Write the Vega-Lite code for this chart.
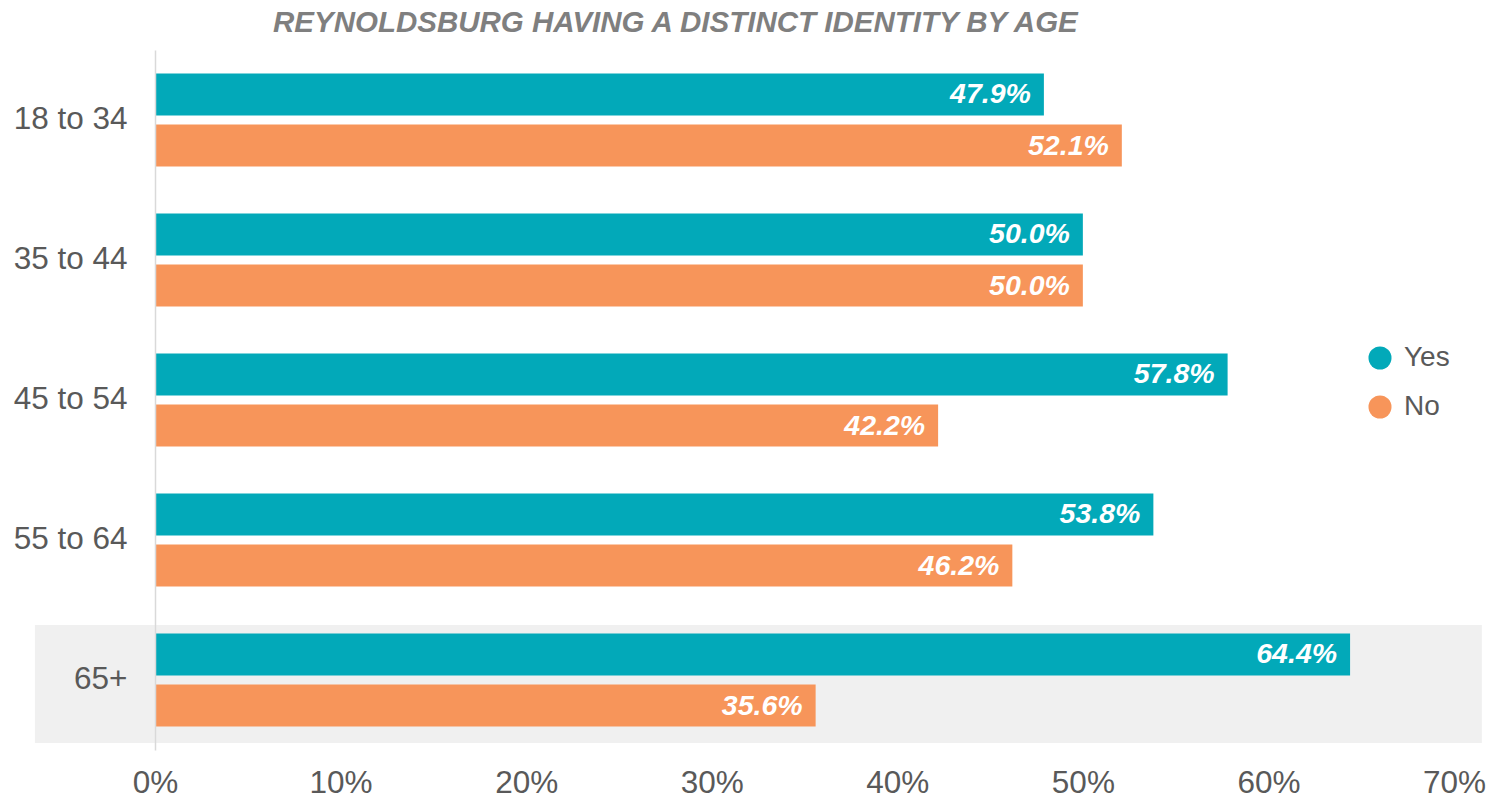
{
  "$schema": "https://vega.github.io/schema/vega-lite/v6.json",
  "width": 1299,
  "height": 700,
  "autosize": "none",
  "padding": {"left": 155, "top": 50, "right": 40, "bottom": 53},
  "background": "white",
  "config": {"view": {"stroke": null}, "font": "Liberation Sans"},
  "title": {
    "text": "REYNOLDSBURG HAVING A DISTINCT IDENTITY BY AGE",
    "anchor": "start",
    "frame": "group",
    "dx": 118,
    "offset": 12,
    "font": "Liberation Sans",
    "fontSize": 29.5,
    "fontWeight": "bold",
    "fontStyle": "italic",
    "color": "#7f7f7f"
  },
  "data": {
    "values": [
      {"age": "18 to 34", "response": "Yes", "value": 0.479},
      {"age": "18 to 34", "response": "No", "value": 0.521},
      {"age": "35 to 44", "response": "Yes", "value": 0.5},
      {"age": "35 to 44", "response": "No", "value": 0.5},
      {"age": "45 to 54", "response": "Yes", "value": 0.578},
      {"age": "45 to 54", "response": "No", "value": 0.422},
      {"age": "55 to 64", "response": "Yes", "value": 0.538},
      {"age": "55 to 64", "response": "No", "value": 0.462},
      {"age": "65+", "response": "Yes", "value": 0.644},
      {"age": "65+", "response": "No", "value": 0.356}
    ]
  },
  "encoding": {
    "y": {
      "field": "age",
      "type": "nominal",
      "sort": ["18 to 34", "35 to 44", "45 to 54", "55 to 64", "65+"],
      "scale": {"paddingInner": 0, "paddingOuter": 0},
      "axis": {
        "title": null,
        "ticks": false,
        "domainColor": "#d9d9d9",
        "domainWidth": 1.5,
        "labelFontSize": 31.5,
        "labelColor": "#595959",
        "labelPadding": 28,
        "labelFont": "Liberation Sans",
        "zindex": 1
      }
    }
  },
  "layer": [
    {
      "data": {"values": [{"age": "65+"}]},
      "mark": {"type": "bar", "color": "#f0f0f0", "height": {"band": 0.843}},
      "encoding": {
        "x": {"datum": -0.0647, "type": "quantitative"},
        "x2": {"datum": 0.715},
        "yOffset": {"value": 4}
      }
    },
    {
      "mark": {"type": "bar"},
      "encoding": {
        "x": {
          "field": "value",
          "type": "quantitative",
          "scale": {"domain": [0, 0.7], "nice": false, "zero": true},
          "axis": {
            "title": null,
            "format": ".0%",
            "values": [0, 0.1, 0.2, 0.3, 0.4, 0.5, 0.6, 0.7],
            "grid": false,
            "ticks": false,
            "domain": false,
            "labelFlush": false,
            "labelFontSize": 31.5,
            "labelColor": "#595959",
            "labelPadding": 17,
            "labelFont": "Liberation Sans"
          }
        },
        "yOffset": {
          "field": "response",
          "type": "nominal",
          "sort": ["Yes", "No"],
          "scale": {"paddingInner": 0.176, "paddingOuter": 0.46}
        },
        "color": {
          "field": "response",
          "type": "nominal",
          "sort": ["Yes", "No"],
          "scale": {"domain": ["Yes", "No"], "range": ["#02a9b9", "#f7955a"]},
          "legend": {
            "title": null,
            "orient": "none",
            "legendX": 1211,
            "legendY": 294,
            "symbolType": "circle",
            "symbolSize": 530,
            "symbolStrokeWidth": 0,
            "labelFontSize": 28,
            "labelColor": "#595959",
            "labelFont": "Liberation Sans",
            "labelOffset": 10,
            "rowPadding": 21
          }
        }
      }
    },
    {
      "mark": {
        "type": "text",
        "align": "right",
        "baseline": "middle",
        "dx": -13,
        "font": "Liberation Sans",
        "fontSize": 28.5,
        "fontWeight": "bold",
        "fontStyle": "italic",
        "color": "white"
      },
      "encoding": {
        "x": {"field": "value", "type": "quantitative"},
        "yOffset": {"field": "response", "type": "nominal", "sort": ["Yes", "No"]},
        "text": {"field": "value", "type": "quantitative", "format": ".1%"}
      }
    }
  ]
}
